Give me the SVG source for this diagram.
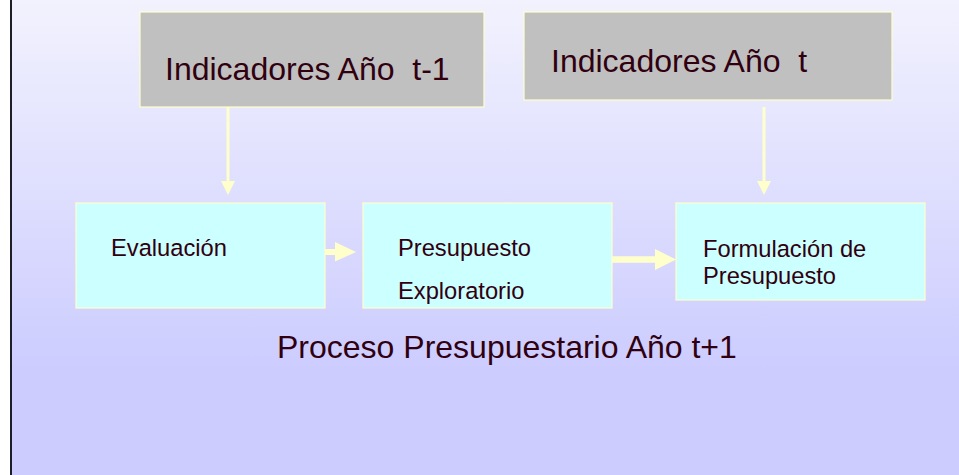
<svg xmlns="http://www.w3.org/2000/svg" width="959" height="475" viewBox="0 0 959 475">
<defs>
<linearGradient id="bg" x1="0" y1="0" x2="0" y2="475" gradientUnits="userSpaceOnUse">
<stop offset="0" stop-color="#f2f2fe"/>
<stop offset="0.78" stop-color="#ccccff"/>
<stop offset="1" stop-color="#ccccff"/>
</linearGradient>
</defs>
<style>
.gray{fill:#c0c0c0;stroke:#ffffcc;stroke-width:1.2}
.cyan{fill:#ccffff;stroke:#ffffcc;stroke-width:1.2}
text{font-family:"Liberation Sans",Arial,sans-serif;fill:#300010;white-space:pre}
.big{font-size:32px}
.small{font-size:23.7px}
.conn line{stroke:#ffffcc;fill:none}
.conn path{fill:#ffffcc;stroke:none}
</style>
<rect x="0" y="0" width="959" height="475" fill="#ffffff"/>
<rect x="11" y="0" width="948" height="475" fill="url(#bg)"/>
<line x1="11" y1="0" x2="11" y2="475" stroke="#1e1e28" stroke-width="2"/>
<g id="connectors" class="conn">
<line x1="228" y1="107" x2="228" y2="182" stroke-width="3"/>
<path d="M221,181 L235,181 L228,195 Z"/>
<line x1="764" y1="107" x2="764" y2="182" stroke-width="3"/>
<path d="M757,181 L771,181 L764,195 Z"/>
<line x1="325" y1="252" x2="336" y2="252" stroke-width="6"/>
<path d="M335,242 L356,252 L335,261.5 Z"/>
<line x1="612" y1="259.5" x2="656" y2="259.5" stroke-width="6.5"/>
<path d="M655,249 L676,259.5 L655,270 Z"/>
</g>
<g id="node-indicadores-t1">
<rect class="gray" x="140" y="12" width="344" height="95"/>
<text class="big" x="165" y="80">Indicadores Año  t-1</text>
</g>
<g id="node-indicadores-t">
<rect class="gray" x="524" y="12" width="368" height="88"/>
<text class="big" x="551" y="72">Indicadores Año  t</text>
</g>
<g id="node-evaluacion">
<rect class="cyan" x="76" y="203" width="249" height="105"/>
<text class="small" x="111" y="256">Evaluación</text>
</g>
<g id="node-presupuesto-exploratorio">
<rect class="cyan" x="363" y="203" width="249" height="105"/>
<text class="small" x="398" y="256">Presupuesto</text>
<text class="small" x="398" y="299">Exploratorio</text>
</g>
<g id="node-formulacion">
<rect class="cyan" x="676" y="203" width="249" height="97"/>
<text class="small" x="703" y="257">Formulación de</text>
<text class="small" x="703" y="284">Presupuesto</text>
</g>
<g id="label-proceso">
<text class="big" x="277" y="358">Proceso Presupuestario Año t+1</text>
</g>
</svg>
